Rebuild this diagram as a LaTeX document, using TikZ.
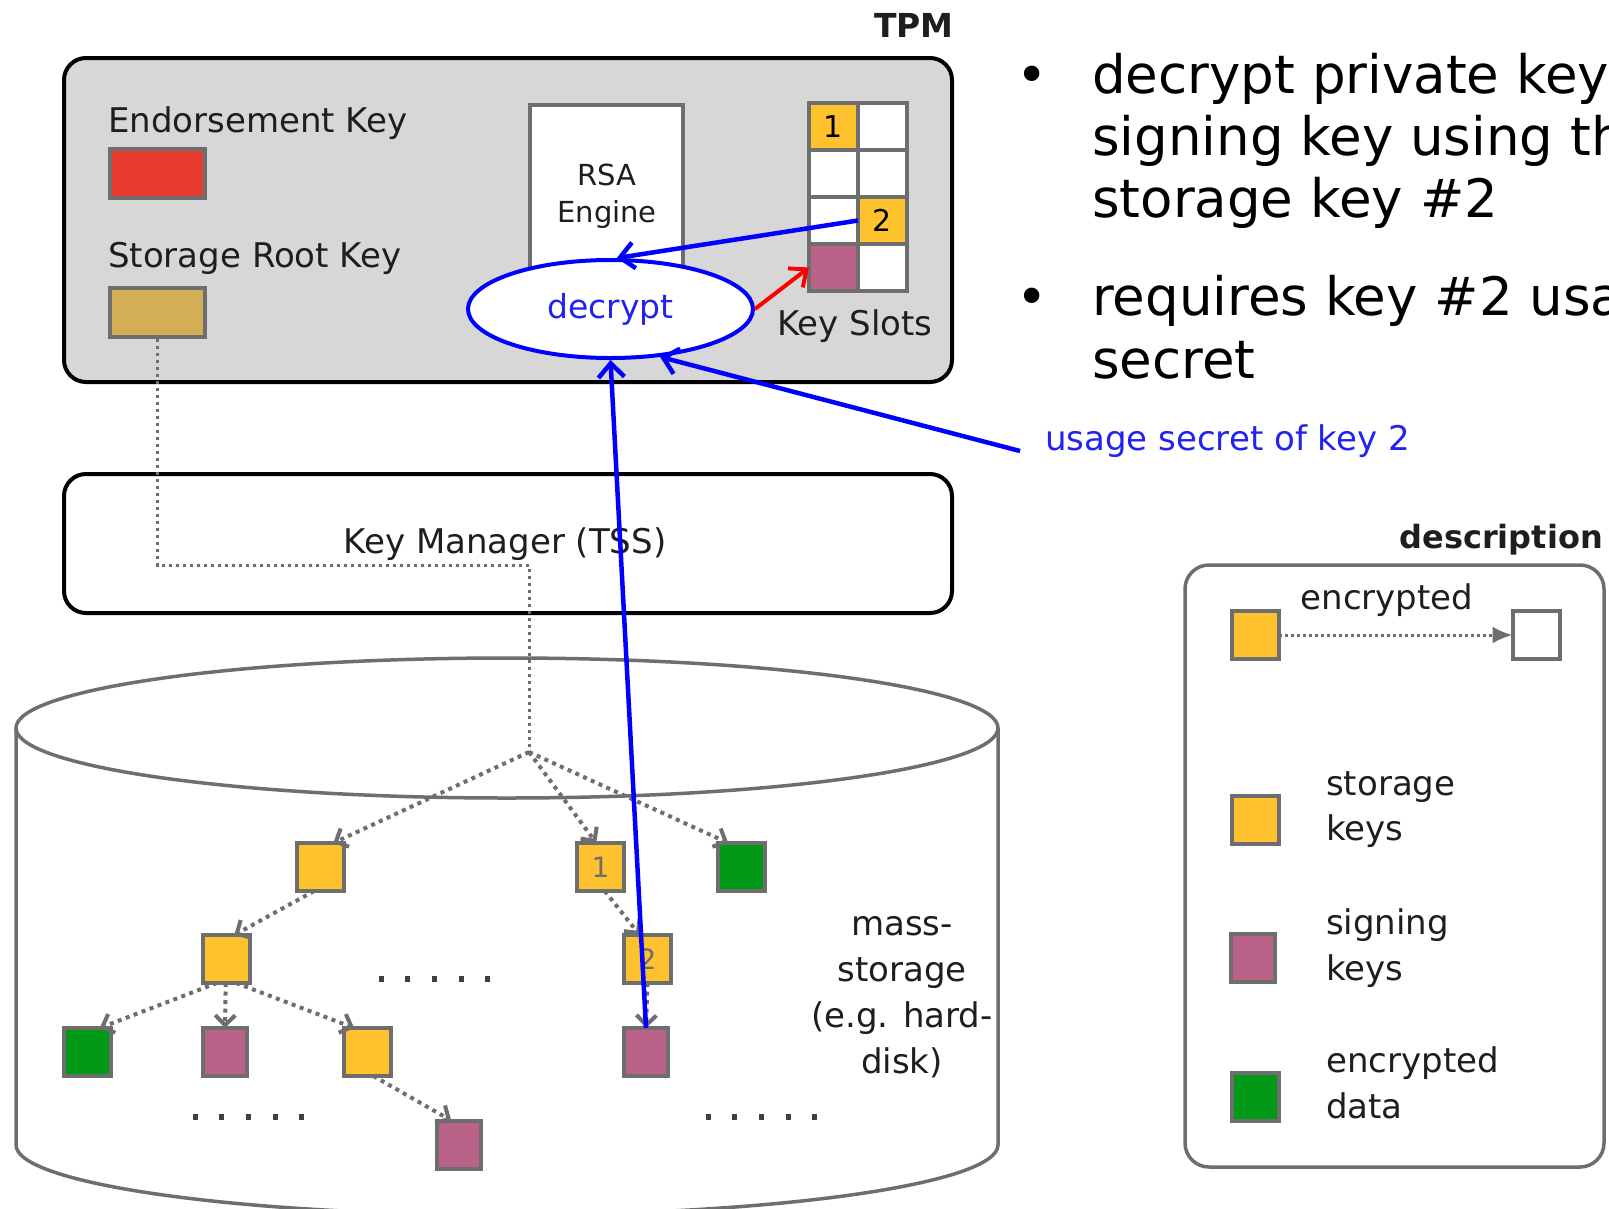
\documentclass[tikz,border=0pt]{standalone}
\usepackage{fontspec}
\setmainfont{DejaVu Sans}
\usetikzlibrary{arrows.meta,shapes.geometric}

\definecolor{edgegray}{HTML}{6E6E6E}
\definecolor{keyyellow}{HTML}{FEC22F}
\definecolor{keypurple}{HTML}{BA6288}
\definecolor{keygreen}{HTML}{009A18}
\definecolor{ekred}{HTML}{E83C30}
\definecolor{srktan}{HTML}{D4AE56}
\definecolor{chipgray}{HTML}{D7D7D7}
\definecolor{opblue}{HTML}{0000FF}
\definecolor{opbluetext}{HTML}{2323F0}
\definecolor{ink}{HTML}{1E1E1E}

\tikzset{
  lbl/.style={font=\fontsize{34}{41}\selectfont, text=ink, inner sep=0pt},
  bigtxt/.style={font=\fontsize{53}{62}\selectfont, text=black, inner sep=0pt},
  headtxt/.style={font=\bfseries\fontsize{33}{40}\selectfont, text=ink, inner sep=0pt},
  keybox/.style={draw=edgegray, line width=4pt, inner sep=0pt, outer sep=0pt,
    minimum width=47pt, minimum height=48pt,
    font=\fontsize{28}{30}\selectfont, text=edgegray},
  storekey/.style={keybox, fill=keyyellow},
  signkey/.style={keybox, fill=keypurple, minimum width=44pt},
  datakey/.style={keybox, fill=keygreen},
  plainkey/.style={keybox, fill=white},
  slot/.style={draw=edgegray, line width=4pt, fill=white, inner sep=0pt, outer sep=0pt,
    minimum width=49pt, minimum height=47pt, font=\fontsize{30}{32}\selectfont, text=black},
  treearrow/.style={draw=edgegray, line width=4pt, dash pattern=on 4pt off 4.5pt,
    -{Straight Barb[length=10pt,width=20pt]}},
  keypath/.style={draw=edgegray, line width=3pt, dash pattern=on 3pt off 4pt},
  bluearrow/.style={draw=opblue, line width=4.5pt, -{Straight Barb[length=14pt,width=26pt]}},
  tick/.style={fill=black!75},
}

\begin{document}
\begin{tikzpicture}[x=1pt, y=-1pt]
  \clip (0,0) rectangle (1609,1208);
  \fill[white] (0,0) rectangle (1609,1208);

  % ---------------- TPM chip ----------------
  \node[headtxt, anchor=base east] (tpmtitle) at (954,37) {TPM};
  \node[draw=black, line width=4pt, rounded corners=22pt, fill=chipgray,
        minimum width=888pt, minimum height=324pt] (tpm) at (508,220) {};

  \node[lbl, anchor=base west] (ektitle) at (108,132) {Endorsement Key};
  \node[draw=edgegray, line width=4pt, fill=ekred, minimum width=95pt,
        minimum height=49pt, inner sep=0pt] (ek) at (157.5,173.5) {};
  \node[lbl, anchor=base west] (srktitle) at (108,267) {Storage Root Key};
  \node[draw=edgegray, line width=4pt, fill=srktan, minimum width=95pt,
        minimum height=49pt, inner sep=0pt] (srk) at (157.5,312) {};

  % RSA engine (its lower edge sits behind the decrypt ellipse)
  \node[draw=edgegray, line width=4pt, fill=white, minimum width=153pt,
        minimum height=195pt, inner sep=0pt] (rsa) at (606.5,202.5) {};
  \node[font=\fontsize{29}{37}\selectfont, text=ink, inner sep=0pt, anchor=base] (rsaA) at (607,185) {RSA};
  \node[font=\fontsize{29}{37}\selectfont, text=ink, inner sep=0pt, anchor=base] (rsaB) at (607,222) {Engine};

  % key slots
  \node[slot, fill=keyyellow] (s11) at (833.5,126.5) {1};
  \node[slot] (s12) at (882.5,126.5) {};
  \node[slot] (s21) at (833.5,173.5) {};
  \node[slot] (s22) at (882.5,173.5) {};
  \node[slot] (s31) at (833.5,220.5) {};
  \node[slot, fill=keyyellow] (s32) at (882.5,220.5) {2};
  \node[slot, fill=keypurple] (s41) at (833.5,267.5) {};
  \node[slot] (s42) at (882.5,267.5) {};
  \node[lbl, anchor=base] (slotlbl) at (855,335) {Key Slots};

  \node[ellipse, draw=opblue, line width=4pt, fill=white, minimum width=285pt,
        minimum height=98pt, inner sep=0pt] (dec) at (610.5,309) {};
  \node[font=\fontsize{33}{40}\selectfont, text=opbluetext, inner sep=0pt, anchor=base] (dectxt) at (610.5,318) {decrypt};

  % ---------------- key manager ----------------
  \node[draw=black, line width=4pt, rounded corners=22pt, fill=white,
        minimum width=888pt, minimum height=139pt] (tss) at (508,543.5) {};
  \node[lbl, anchor=base] (tsstxt) at (505,553) {Key Manager (TSS)};

  % ---------------- mass storage ----------------
  \draw[edgegray, line width=3.5pt, fill=white]
    (16,728) -- (16,1145) arc[start angle=180, end angle=0, x radius=491, y radius=70] -- (998,728);
  \draw[edgegray, line width=3.5pt] (507,728) ellipse [x radius=491, y radius=70];

  \coordinate (root) at (529,752);
  \coordinate (bend) at (157.5,565);
  \coordinate (bend2) at (529,565);
  \draw[keypath] (srk.south) -- (bend) -- (bend2) -- (root);

  \node[storekey] (A) at (320.5,867) {};
  \node[storekey] (B) at (600.5,867) {1};
  \node[datakey]  (C) at (741,867) {};
  \node[storekey] (D) at (226.5,959) {};
  \node[storekey] (E) at (647.5,959) {2};
  \node[datakey]  (F) at (87,1052) {};
  \node[signkey]  (G) at (225,1052) {};
  \node[storekey] (H) at (367,1052) {};
  \node[signkey]  (I) at (646,1052) {};
  \node[signkey]  (J) at (459,1144.5) {};

  \draw[treearrow] (root) -- (A.62);
  \draw[treearrow] (root) -- (B.100);
  \draw[treearrow] (root) -- (C.118);
  \draw[treearrow] (A.-105) -- (D.72);
  \draw[treearrow] (B.-80) -- (E.108);
  \draw[treearrow] (D.-112) -- (F.62);
  \draw[treearrow] (D.-92) -- (G.north);
  \draw[treearrow] (D.-68) -- (H.118);
  \draw[treearrow] (H.-75) -- (J.108);
  \draw[treearrow] (E.south) -- (I.north);

  \foreach \i in {0,...,4} {
    \fill[tick] (378.5+\i*26.7,975.5) rectangle ++(5,6.5);
    \fill[tick] (192.5+\i*26.7,1113.5) rectangle ++(5,6.5);
    \fill[tick] (705.5+\i*26.7,1113.5) rectangle ++(5,6.5);
  }

  \node[lbl, anchor=base] (ms1) at (902,935) {mass-};
  \node[lbl, anchor=base] (ms2) at (902,981) {storage};
  \node[lbl, anchor=base] (ms3) at (902,1027) {(e.g. hard-};
  \node[lbl, anchor=base] (ms4) at (902,1073) {disk)};

  % ---------------- operation arrows ----------------
  \draw[draw=red, line width=4pt, -{Straight Barb[length=14pt,width=24pt]}] (dec.east) -- (s41.west);
  \draw[bluearrow] (s32.west) -- (dec.83);
  \node[font=\fontsize{34}{41}\selectfont, text=opbluetext, inner sep=0pt, anchor=base west] (usage) at (1045,450) {usage secret of key 2};
  \coordinate (usagetail) at (1020,451);
  \draw[bluearrow] (usagetail) -- (dec.-44);
  \draw[bluearrow] (I.north) -- (dec.south);

  % ---------------- notes ----------------
  \node[bigtxt, anchor=base] (b1) at (1032,93) {•};
  \node[bigtxt, anchor=base west] (n11) at (1092,93) {decrypt private key};
  \node[bigtxt, anchor=base west] (n12) at (1092,155) {signing key using the};
  \node[bigtxt, anchor=base west] (n13) at (1092,217) {storage key \#2};
  \node[bigtxt, anchor=base] (b2) at (1032,315) {•};
  \node[bigtxt, anchor=base west] (n21) at (1092,315) {requires key \#2 usage};
  \node[bigtxt, anchor=base west] (n22) at (1092,378) {secret};

  % ---------------- legend ----------------
  \node[headtxt, font=\bfseries\fontsize{32}{40}\selectfont, anchor=base east] (legtitle) at (1603,548) {description};
  \node[draw=edgegray, line width=3.5pt, rounded corners=24pt, fill=white,
        minimum width=419pt, minimum height=602pt] (legend) at (1394.5,866) {};

  \node[storekey] (lenc) at (1255,635) {};
  \node[plainkey] (lplain) at (1536,635) {};
  \draw[draw=edgegray, line width=3pt, dash pattern=on 3pt off 3pt,
        -{Latex[length=20pt,width=17pt]}] (lenc.east) -- (lplain.west);
  \node[lbl, anchor=base] (lenctxt) at (1387,609) {encrypted};

  \node[storekey] (lstore) at (1255,820) {};
  \node[lbl, anchor=base west] (lstore1) at (1326,795) {storage};
  \node[lbl, anchor=base west] (lstore2) at (1326,840) {keys};

  \node[signkey] (lsign) at (1253,958) {};
  \node[lbl, anchor=base west] (lsign1) at (1326,934) {signing};
  \node[lbl, anchor=base west] (lsign2) at (1326,980) {keys};

  \node[datakey] (ldata) at (1255,1097) {};
  \node[lbl, anchor=base west] (ldata1) at (1326,1072) {encrypted};
  \node[lbl, anchor=base west] (ldata2) at (1326,1118) {data};
\end{tikzpicture}
\end{document}
